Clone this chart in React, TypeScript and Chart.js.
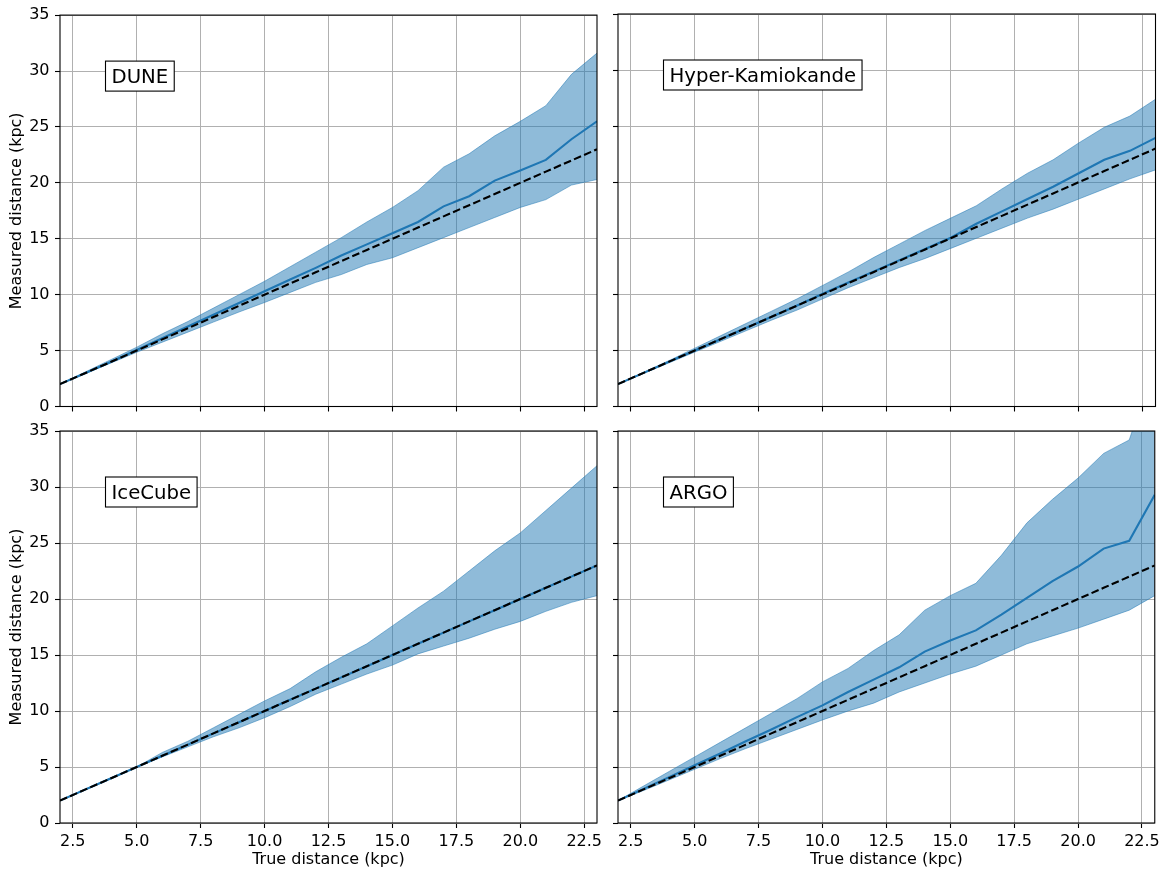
import React, { useEffect, useRef } from "react";
import { Chart, registerables } from "chart.js";
Chart.register(...registerables);

const trueDistance = [2, 3, 4, 5, 6, 7, 8, 9, 10, 11, 12, 13, 14, 15, 16, 17, 18, 19, 20, 21, 22, 23];
const xTicks = [2.5, 5, 7.5, 10, 12.5, 15, 17.5, 20, 22.5];
const yTicks = [0, 5, 10, 15, 20, 25, 30, 35];

const duneMean = [2, 3.0, 4.0, 5.05, 6.1, 7.15, 8.2, 9.25, 10.3, 11.35, 12.4, 13.5, 14.5, 15.5, 16.5, 17.9, 18.8, 20.2, 21.1, 22.05, 23.9, 25.5];
const duneUpper = [2, 3.1, 4.2, 5.3, 6.5, 7.6, 8.8, 10.0, 11.2, 12.5, 13.8, 15.1, 16.5, 17.8, 19.3, 21.4, 22.6, 24.2, 25.5, 26.9, 29.7, 31.6];
const duneLower = [2, 2.95, 3.9, 4.85, 5.75, 6.65, 7.55, 8.45, 9.3, 10.2, 11.1, 11.8, 12.7, 13.3, 14.2, 15.1, 16.0, 16.9, 17.8, 18.5, 19.8, 20.3];

const hkMean = [2, 3, 4, 5, 6, 7, 8, 9, 10.05, 11.05, 12.05, 13.05, 14.05, 15.05, 16.3, 17.4, 18.5, 19.6, 20.8, 22.0, 22.8, 23.95];
const hkUpper = [2, 3.05, 4.1, 5.2, 6.3, 7.4, 8.5, 9.6, 10.8, 12.0, 13.3, 14.5, 15.7, 16.8, 17.9, 19.4, 20.8, 22.0, 23.5, 24.9, 25.9, 27.4];
const hkLower = [2, 2.95, 3.9, 4.85, 5.8, 6.75, 7.7, 8.6, 9.6, 10.6, 11.5, 12.4, 13.2, 14.1, 15.0, 15.9, 16.8, 17.6, 18.5, 19.4, 20.3, 21.1];

const iceMean = [2, 3, 4, 5, 6, 7, 8, 9, 10, 11, 12, 13, 14, 15, 16, 17, 18, 19, 20, 21, 22, 23];
const iceUpper = [2, 3.05, 4.05, 5, 6.3, 7.3, 8.5, 9.7, 10.9, 12.0, 13.5, 14.8, 16.0, 17.6, 19.2, 20.7, 22.5, 24.3, 25.9, 27.9, 29.9, 31.9];
const iceLower = [2, 2.95, 3.95, 5, 5.9, 6.8, 7.7, 8.5, 9.4, 10.4, 11.5, 12.4, 13.3, 14.1, 15.1, 15.8, 16.5, 17.3, 18.0, 18.9, 19.7, 20.3];

const argoMean = [2, 3.05, 4.1, 5.15, 6.2, 7.3, 8.35, 9.45, 10.5, 11.7, 12.8, 13.9, 15.3, 16.3, 17.2, 18.6, 20.1, 21.6, 22.9, 24.5, 25.2, 29.3];
const argoUpper = [2, 3.3, 4.6, 5.9, 7.2, 8.5, 9.8, 11.1, 12.6, 13.8, 15.4, 16.8, 19.0, 20.3, 21.4, 23.9, 26.8, 28.9, 30.8, 33.0, 34.2, 41];
const argoLower = [2, 2.9, 3.85, 4.8, 5.75, 6.65, 7.5, 8.35, 9.2, 10.0, 10.7, 11.7, 12.5, 13.3, 14.0, 15.0, 16.0, 16.7, 17.4, 18.2, 19.0, 20.3];

const xTitle = "True distance (kpc)";
const yTitle = "Measured distance (kpc)";

const W = 1164;
const H = 870;
const FONT = "DejaVu Sans";
const BLUE = "#1f77b4";
const BAND = "rgba(31,119,180,0.5)";

type Panel = {
  name: string;
  mean: number[];
  upper: number[];
  lower: number[];
  area: { left: number; top: number; right: number; bottom: number };
  showX: boolean;
  showY: boolean;
};

const panels: Panel[] = [
  { name: "DUNE", mean: duneMean, upper: duneUpper, lower: duneLower, area: { left: 60, top: 14, right: 597, bottom: 406.5 }, showX: false, showY: true },
  { name: "Hyper-Kamiokande", mean: hkMean, upper: hkUpper, lower: hkLower, area: { left: 618, top: 14, right: 1155.5, bottom: 406.5 }, showX: false, showY: false },
  { name: "IceCube", mean: iceMean, upper: iceUpper, lower: iceLower, area: { left: 60, top: 431, right: 597, bottom: 823 }, showX: true, showY: true },
  { name: "ARGO", mean: argoMean, upper: argoUpper, lower: argoLower, area: { left: 618, top: 431, right: 1155.5, bottom: 823 }, showX: true, showY: false },
];

const zip = (xs: number[], ys: number[]) => xs.map((x, i) => ({ x, y: ys[i] }));

function makeConfig(p: Panel): any {
  const yWidth = p.showY ? p.area.left : 10;
  const padLeft = p.area.left - yWidth;
  const xHeight = p.showX ? H - p.area.bottom : 22;
  const padBottom = H - p.area.bottom - xHeight;

  const framePlugin = {
    id: "frameAndLabel",
    afterDraw(chart: any) {
      const { ctx, chartArea: a } = chart;
      ctx.save();
      ctx.strokeStyle = "#000";
      ctx.lineWidth = 1.1;
      ctx.strokeRect(a.left, a.top, a.right - a.left, a.bottom - a.top);
      ctx.font = `19.7px "${FONT}"`;
      const tw = ctx.measureText(p.name).width;
      const bx = a.left + 45.5;
      const by = a.top + 46;
      const bw = tw + 12;
      const bh = 30;
      ctx.fillStyle = "#fff";
      ctx.fillRect(bx, by, bw, bh);
      ctx.lineWidth = 1.1;
      ctx.strokeRect(bx, by, bw, bh);
      ctx.fillStyle = "#000";
      ctx.textBaseline = "alphabetic";
      ctx.textAlign = "left";
      ctx.fillText(p.name, bx + 6, by + 21.7);
      ctx.restore();
    },
  };

  const tickFont = { family: FONT, size: 16 };

  return {
    type: "line",
    data: {
      datasets: [
        { label: "true", data: zip(trueDistance, trueDistance), borderColor: "#000", borderWidth: 2.1, borderDash: [7.7, 3.3], pointRadius: 0, fill: false, order: 0 },
        { label: "mean", data: zip(trueDistance, p.mean), borderColor: BLUE, borderWidth: 2.1, pointRadius: 0, fill: false, order: 1 },
        { label: "upper", data: zip(trueDistance, p.upper), borderColor: BAND, backgroundColor: BAND, borderWidth: 1, pointRadius: 0, fill: "+1", order: 2 },
        { label: "lower", data: zip(trueDistance, p.lower), borderColor: BAND, borderWidth: 1, pointRadius: 0, fill: false, order: 3 },
      ],
    },
    options: {
      animation: false,
      responsive: false,
      events: [],
      layout: {
        autoPadding: false,
        padding: { left: padLeft, top: p.area.top, right: W - p.area.right, bottom: padBottom },
      },
      elements: { line: { tension: 0 } },
      plugins: { legend: { display: false }, tooltip: { enabled: false }, title: { display: false } },
      scales: {
        x: {
          type: "linear",
          min: 2,
          max: 23,
          afterBuildTicks: (s: any) => {
            s.ticks = xTicks.map((v) => ({ value: v }));
          },
          afterFit: (s: any) => {
            s.height = xHeight;
          },
          ticks: {
            display: p.showX,
            callback: (v: any) => Number(v).toFixed(1),
            font: tickFont,
            color: "#000",
            padding: 4,
            maxRotation: 0,
            autoSkip: false,
          },
          grid: { color: "#b0b0b0", lineWidth: 1, tickLength: 5, tickColor: "#000", tickWidth: 1.1, drawTicks: true },
          border: { display: false },
          title: { display: p.showX, text: xTitle, font: tickFont, color: "#000", padding: { top: 0, bottom: 0.5 } },
        },
        y: {
          type: "linear",
          min: 0,
          max: 35,
          afterBuildTicks: (s: any) => {
            s.ticks = yTicks.map((v) => ({ value: v }));
          },
          afterFit: (s: any) => {
            s.width = yWidth;
          },
          ticks: {
            display: p.showY,
            callback: (v: any) => String(v),
            font: tickFont,
            color: "#000",
            padding: 5.5,
            autoSkip: false,
          },
          grid: { color: "#b0b0b0", lineWidth: 1, tickLength: 5, tickColor: "#000", tickWidth: 1.1, drawTicks: true },
          border: { display: false },
          title: { display: p.showY, text: yTitle, font: tickFont, color: "#000", padding: { top: 6.9, bottom: 0 } },
        },
      },
    },
    plugins: [framePlugin],
  };
}

function PanelChart({ panel }: { panel: Panel }) {
  const ref = useRef<HTMLCanvasElement | null>(null);
  useEffect(() => {
    if (!ref.current) return;
    const chart = new Chart(ref.current, makeConfig(panel));
    return () => chart.destroy();
  }, [panel]);
  return (
    <canvas
      ref={ref}
      width={W}
      height={H}
      style={{ position: "absolute", left: 0, top: 0, width: W, height: H }}
    />
  );
}

export default function App() {
  return (
    <div style={{ position: "absolute", left: 0, top: 0, width: W, height: H, background: "#fff", overflow: "hidden" }}>
      {panels.map((p) => (
        <PanelChart key={p.name} panel={p} />
      ))}
    </div>
  );
}
